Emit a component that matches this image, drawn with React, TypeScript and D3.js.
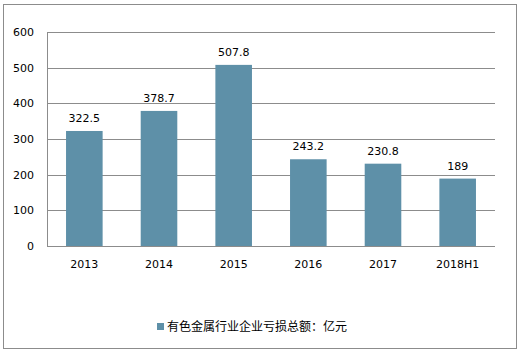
import { useRef, useEffect } from 'react';
import * as d3 from 'd3';

// 有色金属行业企业亏损总额 (亿元)
const CATEGORIES = ['2013', '2014', '2015', '2016', '2017', '2018H1'];
const VALUES = [322.5, 378.7, 507.8, 243.2, 230.8, 189];
const LABELS = ['322.5', '378.7', '507.8', '243.2', '230.8', '189'];
const Y_TICKS = [0, 100, 200, 300, 400, 500, 600];
const LEGEND = '有色金属行业企业亏损总额：亿元';

const WIDTH = 522;
const HEIGHT = 352;
const BAR_COLOR = '#5e90a8';
const GRID_COLOR = '#8c8c8c';
const FONT = '"DejaVu Sans", Verdana, sans-serif';
const CJK_FONT = '"Noto Sans CJK SC", sans-serif';

export default function App() {
  const svgRef = useRef<SVGSVGElement>(null);

  useEffect(() => {
    if (!svgRef.current) return;
    const svg = d3.select(svgRef.current);
    svg.selectAll('*').remove();

    const margin = { left: 47, right: 27, top: 32, bottom: 106 };

    // outer frame
    svg.append('rect')
      .attr('x', 3.5)
      .attr('y', 4.5)
      .attr('width', 513)
      .attr('height', 344)
      .attr('fill', '#fff')
      .attr('stroke', GRID_COLOR)
      .attr('stroke-width', 1);

    const x = d3.scaleBand()
      .domain(CATEGORIES)
      .range([margin.left, WIDTH - margin.right])
      .paddingInner(0.51)
      .paddingOuter(0.255);

    const y = d3.scaleLinear()
      .domain([0, 600])
      .range([HEIGHT - margin.bottom, margin.top]);

    // gridlines
    svg.append('g')
      .selectAll('line')
      .data(Y_TICKS)
      .join('line')
      .attr('x1', margin.left)
      .attr('x2', WIDTH - margin.right)
      .attr('y1', d => Math.round(y(d)) + 0.5)
      .attr('y2', d => Math.round(y(d)) + 0.5)
      .attr('stroke', GRID_COLOR)
      .attr('stroke-width', 1);

    // y axis line
    svg.append('line')
      .attr('x1', margin.left + 0.5)
      .attr('x2', margin.left + 0.5)
      .attr('y1', Math.round(y(600)) + 0.5)
      .attr('y2', Math.round(y(0)) + 0.5)
      .attr('stroke', GRID_COLOR);

    // y tick labels
    svg.append('g')
      .selectAll('text')
      .data(Y_TICKS)
      .join('text')
      .attr('x', 34)
      .attr('y', d => y(d))
      .attr('dy', '0.35em')
      .attr('text-anchor', 'end')
      .attr('font-family', FONT)
      .attr('font-size', '11px')
      .attr('fill', '#000')
      .text(d => d);

    // bars
    svg.append('g')
      .selectAll('rect')
      .data(VALUES)
      .join('rect')
      .attr('x', (_, i) => x(CATEGORIES[i])!)
      .attr('y', d => y(d))
      .attr('width', x.bandwidth())
      .attr('height', d => y(0) - y(d))
      .attr('fill', BAR_COLOR);

    // value labels
    svg.append('g')
      .selectAll('text')
      .data(VALUES)
      .join('text')
      .attr('x', (_, i) => x(CATEGORIES[i])! + x.bandwidth() / 2)
      .attr('y', d => y(d) - 9)
      .attr('text-anchor', 'middle')
      .attr('font-family', FONT)
      .attr('font-size', '11px')
      .attr('fill', '#000')
      .text((_, i) => LABELS[i]);

    // x labels
    svg.append('g')
      .selectAll('text')
      .data(CATEGORIES)
      .join('text')
      .attr('x', d => x(d)! + x.bandwidth() / 2)
      .attr('y', y(0) + 18)
      .attr('dy', '0.35em')
      .attr('text-anchor', 'middle')
      .attr('font-family', FONT)
      .attr('font-size', '11px')
      .attr('fill', '#000')
      .text(d => d);

    // legend
    const legendY = 327;
    svg.append('rect')
      .attr('x', 157)
      .attr('y', legendY - 4)
      .attr('width', 7)
      .attr('height', 7)
      .attr('fill', BAR_COLOR);

    svg.append('text')
      .attr('x', 167)
      .attr('y', legendY)
      .attr('dy', '0.35em')
      .attr('font-family', CJK_FONT)
      .attr('font-size', '12px')
      .attr('fill', '#000')
      .text(LEGEND);
  }, []);

  return (
    <div style={{ position: 'fixed', left: 0, top: 0 }}>
      <svg ref={svgRef} width={WIDTH} height={HEIGHT} style={{ display: 'block' }} />
    </div>
  );
}
